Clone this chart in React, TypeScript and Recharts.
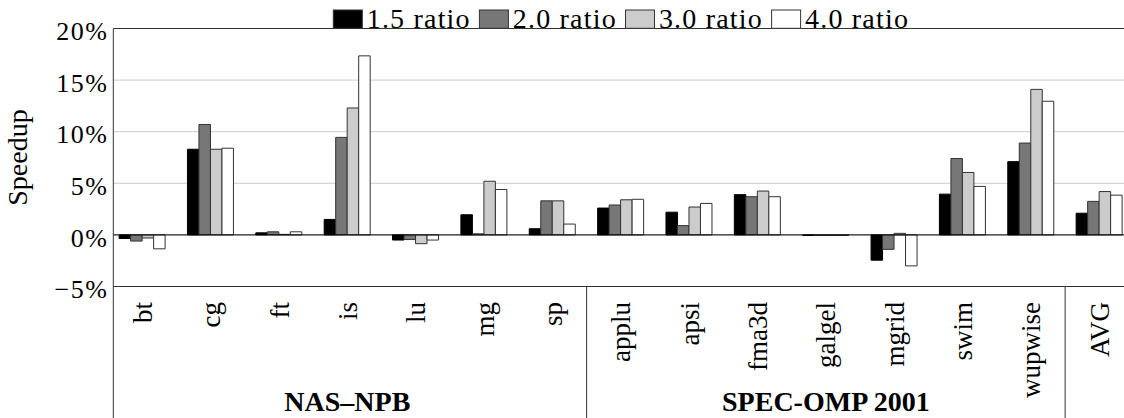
import React from 'react';
import { BarChart, Bar, XAxis, YAxis, CartesianGrid, ReferenceLine } from 'recharts';

// ---------- data ----------
const categories = ['bt', 'cg', 'ft', 'is', 'lu', 'mg', 'sp', 'applu', 'apsi', 'fma3d', 'galgel', 'mgrid', 'swim', 'wupwise', 'AVG'];
const groupNames = ['NAS–NPB', 'SPEC-OMP 2001'];
const groupStarts = [0, 7];
const groupEnds = [6, 13];
const separatorStarts = [7, 14];
const seriesNames = ['1.5 ratio', '2.0 ratio', '3.0 ratio', '4.0 ratio'];
const r15 = [-0.35, 8.3, 0.2, 1.5, -0.5, 1.95, 0.6, 2.6, 2.2, 3.9, -0.05, -2.45, 3.95, 7.1, 2.1];
const r20 = [-0.6, 10.7, 0.3, 9.45, -0.45, 0.1, 3.3, 2.9, 0.9, 3.7, -0.05, -1.4, 7.4, 8.9, 3.25];
const r30 = [-0.3, 8.3, 0.05, 12.3, -0.85, 5.2, 3.3, 3.4, 2.7, 4.25, -0.05, 0.15, 6.05, 14.1, 4.2];
const r40 = [-1.35, 8.4, 0.3, 17.35, -0.5, 4.4, 1.05, 3.45, 3.05, 3.7, -0.05, -3.0, 4.7, 12.95, 3.85];
const yTicks = [-5, 0, 5, 10, 15, 20];
const seriesKeys = ['r15', 'r20', 'r30', 'r40'];
const seriesColors = ['#000000', '#777777', '#cccccc', '#ffffff'];

const data = categories.map((c, i) => ({ cat: c, r15: r15[i], r20: r20[i], r30: r30[i], r40: r40[i] }));

// ---------- layout ----------
const FONT = '"Liberation Serif", "Times New Roman", serif';
const CHART_W = 1140;
const CHART_H = 418;
const TOP = 28.5;
const PLOT_LEFT = 113.3;
const RIGHT_M = 6.5;
const X_AXIS_H = 131.5;
const PLOT_BOTTOM = CHART_H - X_AXIS_H;
const PAD_LEFT = -5.2;
const PLOT_RIGHT = CHART_W - RIGHT_M;
const BAND = (PLOT_RIGHT - (PLOT_LEFT + PAD_LEFT)) / categories.length;
const FRAME = '#333333';

function YTick(props: any) {
  const { y, payload } = props;
  const v = payload.value;
  const label = (v < 0 ? '\u2212' : '') + Math.abs(v) + '%';
  return (
    <text x={PLOT_LEFT - 5} y={y + 11.7} textAnchor="end" fontFamily={FONT} fontSize={26} letterSpacing={1.5} fill="#000">
      {label}
    </text>
  );
}

function CatTick(props: any) {
  const { x, payload } = props;
  const i = props.index ?? payload?.index ?? categories.indexOf(payload.value);
  const y0 = PLOT_BOTTOM;
  const out: any[] = [];
  out.push(
    <text key="t" x={0} y={0} transform={`translate(${x + 9.5},${y0 + 15.5}) rotate(-90)`} textAnchor="end" fontFamily={FONT} fontSize={27} fill="#000">
      {payload.value}
    </text>
  );
  if (i === 0) {
    out.push(<line key="l0" x1={PLOT_LEFT} x2={PLOT_LEFT} y1={y0} y2={CHART_H} stroke={FRAME} strokeWidth={1} />);
  }
  if (separatorStarts.includes(i)) {
    const sx = x - BAND / 2;
    out.push(<line key="sep" x1={sx} x2={sx} y1={y0} y2={CHART_H} stroke={FRAME} strokeWidth={1} />);
  }
  const g = groupStarts.indexOf(i);
  if (g >= 0) {
    const cx = x + ((groupEnds[g] - groupStarts[g]) / 2) * BAND;
    out.push(
      <text key="g" x={cx} y={411} textAnchor="middle" fontFamily={FONT} fontWeight="bold" fontSize={28} fill="#000">
        {groupNames[g]}
      </text>
    );
  }
  return <g>{out}</g>;
}

export default function App() {
  const legendX0 = 333.3;
  const legendPitch = 146.1;
  return (
    <div style={{ position: 'absolute', left: 0, top: 0, width: 1124, height: 418, overflow: 'hidden', background: '#fff' }}>
      <BarChart
        width={CHART_W}
        height={CHART_H}
        data={data}
        margin={{ top: TOP, right: RIGHT_M, bottom: 0, left: 0 }}
        barGap={0}
        barSize={11.5}
      >
        <CartesianGrid vertical={false} stroke="#cccccc" strokeWidth={1} />
        <XAxis
          dataKey="cat"
          interval={0}
          height={X_AXIS_H}
          axisLine={false}
          tickLine={false}
          tickSize={0}
          tickMargin={0}
          padding={{ left: PAD_LEFT, right: 0 }}
          tick={<CatTick />}
        />
        <YAxis
          width={PLOT_LEFT}
          domain={[-5, 20]}
          ticks={yTicks}
          interval={0}
          allowDataOverflow
          axisLine={{ stroke: FRAME, strokeWidth: 1 }}
          tickLine={false}
          tickSize={0}
          tickMargin={0}
          tick={<YTick />}
        />
        {seriesKeys.map((k, i) => (
          <Bar
            key={k}
            dataKey={k}
            name={seriesNames[i]}
            fill={seriesColors[i]}
            stroke={i === 0 ? '#000000' : FRAME}
            strokeWidth={1}
            isAnimationActive={false}
          />
        ))}
        <ReferenceLine y={0} stroke="#000000" strokeWidth={1} />
        <ReferenceLine y={20} stroke={FRAME} strokeWidth={1} />
        <ReferenceLine y={-5} stroke={FRAME} strokeWidth={1} />
      </BarChart>
      <svg width={1124} height={418} style={{ position: 'absolute', left: 0, top: 0, pointerEvents: 'none' }}>
        <text x={0} y={0} transform={`translate(26.5,${(TOP + PLOT_BOTTOM) / 2}) rotate(-90)`} textAnchor="middle" fontFamily={FONT} fontSize={28} fill="#000">
          Speedup
        </text>
        {seriesNames.map((n, i) => {
          const lx = legendX0 + i * legendPitch;
          return (
            <g key={n}>
              <rect x={lx} y={10} width={29} height={18.3} fill={seriesColors[i]} stroke={FRAME} strokeWidth={1} />
              <text x={lx + 33.4} y={28.3} fontFamily={FONT} fontSize={28} letterSpacing={1.2} fill="#000">
                {n}
              </text>
            </g>
          );
        })}
      </svg>
    </div>
  );
}
